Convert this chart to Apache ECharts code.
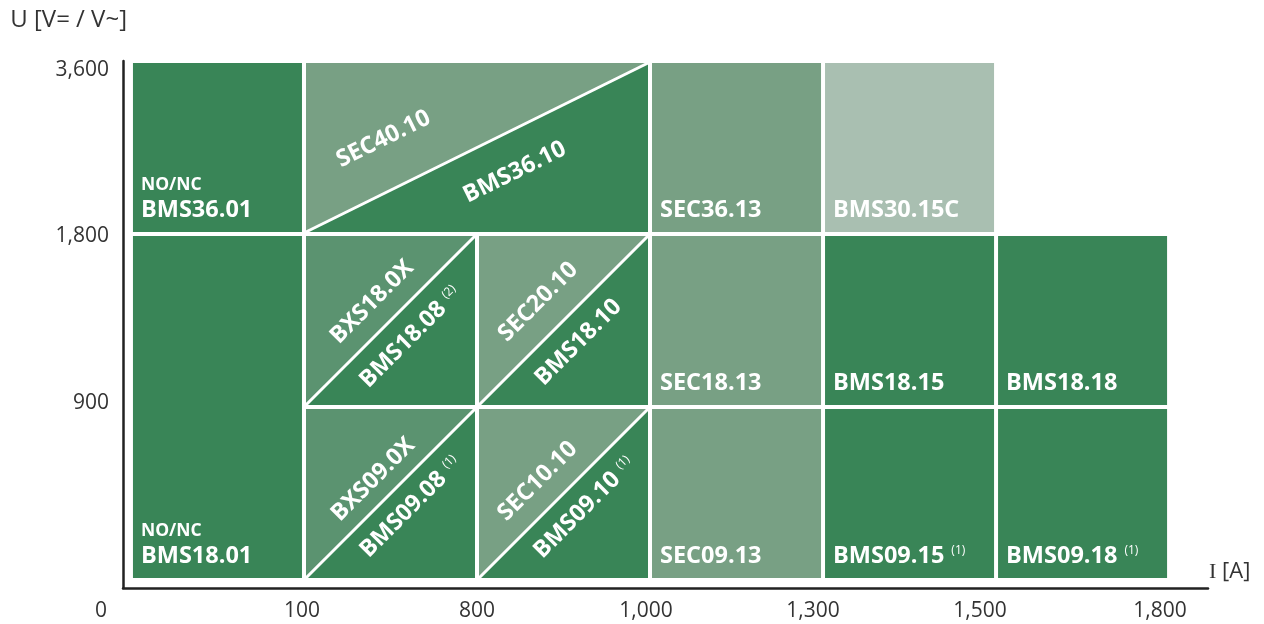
<!DOCTYPE html>
<html><head><meta charset="utf-8">
<script src="https://cdn.jsdelivr.net/npm/echarts@6/dist/echarts.min.js"></script>
<style>html,body{margin:0;padding:0;background:#fff}#c{width:1264px;height:624px}</style>
</head><body><div id="c"></div>
<script>
// ---------- data ----------
const xTickLabels = ['0', '100', '800', '1,000', '1,300', '1,500', '1,800'];
const yTickLabels = ['0', '900', '1,800', '3,600'];
const xAxisName = 'I [A]';
const yAxisName = 'U [V= / V~]';

// whole cells: [colFrom, colTo, rowFrom, rowTo, name, note, prefix, family]
const fullCells = [
  [0, 1, 0, 2, 'BMS18.01', '', 'NO/NC', 'BMS'],
  [0, 1, 2, 3, 'BMS36.01', '', 'NO/NC', 'BMS'],
  [3, 4, 2, 3, 'SEC36.13', '', '', 'SEC'],
  [3, 4, 1, 2, 'SEC18.13', '', '', 'SEC'],
  [3, 4, 0, 1, 'SEC09.13', '', '', 'SEC'],
  [4, 5, 2, 3, 'BMS30.15C', '', '', 'BMSC'],
  [4, 5, 1, 2, 'BMS18.15', '', '', 'BMS'],
  [4, 5, 0, 1, 'BMS09.15', '(1)', '', 'BMS'],
  [5, 6, 1, 2, 'BMS18.18', '', '', 'BMS'],
  [5, 6, 0, 1, 'BMS09.18', '(1)', '', 'BMS']
];

// diagonally split cells: [colFrom, colTo, rowFrom, rowTo, upperName, upperNote, upperFamily, lowerName, lowerNote, lowerFamily]
const splitCells = [
  [1, 3, 2, 3, 'SEC40.10', '', 'SEC', 'BMS36.10', '', 'BMS'],
  [1, 2, 1, 2, 'BXS18.0X', '', 'BXS', 'BMS18.08', '(2)', 'BMS'],
  [2, 3, 1, 2, 'SEC20.10', '', 'SEC', 'BMS18.10', '', 'BMS'],
  [1, 2, 0, 1, 'BXS09.0X', '', 'BXS', 'BMS09.08', '(1)', 'BMS'],
  [2, 3, 0, 1, 'SEC10.10', '', 'SEC', 'BMS09.10', '(1)', 'BMS']
];

// ---------- styles / layout ----------
const familyColors = { BMS: '#398557', SEC: '#78a084', BXS: '#5b9370', BMSC: '#a9bfb1' };
// label placement along the diagonal: [tUpper, offUpper, tLower, offLower]
const splitLabelLayout = [
  [0.29, 49, 0.56, -39],
  [0.50, 26, 0.51, -26],
  [0.48, 31, 0.48, -26],
  [0.49, 22, 0.52, -24],
  [0.46, 27, 0.52, -25]
];
// horizontal nudge (px) of each x tick label, as in the reference
const xLabelShift = [-30, -2, 0, -4, -10, -16, -9];
const GAP = 2;
const FONT = "'Open Sans', 'Noto Sans', sans-serif";
const TICK_SIZE = 21;
const rich = {
  m: { fontSize: 23.5, fontWeight: 'bold', fontFamily: FONT, fill: '#fff', lineHeight: 28 },
  p: { fontSize: 17.5, fontWeight: 'bold', fontFamily: FONT, fill: '#fff', lineHeight: 22 },
  s: { fontSize: 12, fontFamily: FONT, fill: '#fff', verticalAlign: 'top', lineHeight: 16, padding: [3, 0, 0, 7] }
};

function labelText(name, note) {
  return '{m|' + name + '}' + (note ? '{s|' + note + '}' : '');
}

function cellBox(api) {
  const p0 = api.coord([api.value(0), api.value(3)]);
  const p1 = api.coord([api.value(1), api.value(2)]);
  return { x: p0[0] + GAP, y: p0[1] + GAP, w: p1[0] - p0[0] - 2 * GAP, h: p1[1] - p0[1] - 2 * GAP };
}

function renderFull(params, api) {
  const c = fullCells[params.dataIndex];
  const b = cellBox(api);
  let txt = labelText(c[4], c[5]);
  if (c[6]) txt = '{p|' + c[6] + '}\n' + txt;
  return {
    type: 'group',
    children: [
      { type: 'rect', shape: { x: b.x, y: b.y, width: b.w, height: b.h }, style: { fill: familyColors[c[7]] } },
      { type: 'text', x: b.x + 8, y: b.y + b.h - 8, style: { text: txt, rich: rich, align: 'left', verticalAlign: 'bottom' } }
    ]
  };
}

function renderSplit(params, api) {
  const c = splitCells[params.dataIndex];
  const L = splitLabelLayout[params.dataIndex];
  const b = cellBox(api);
  const TL = [b.x, b.y], TR = [b.x + b.w, b.y], BR = [b.x + b.w, b.y + b.h], BL = [b.x, b.y + b.h];
  const len = Math.sqrt(b.w * b.w + b.h * b.h);
  const ux = b.w / len, uy = -b.h / len;
  const nx = -b.h / len, ny = -b.w / len;
  const ang = Math.atan2(b.h, b.w);
  function pos(t, d) { return [BL[0] + ux * t * len + nx * d, BL[1] + uy * t * len + ny * d]; }
  const pu = pos(L[0], L[1]);
  const pl = pos(L[2], L[3]);
  return {
    type: 'group',
    children: [
      { type: 'polygon', shape: { points: [TL, TR, BL] }, style: { fill: familyColors[c[6]] } },
      { type: 'polygon', shape: { points: [TR, BR, BL] }, style: { fill: familyColors[c[9]] } },
      { type: 'line', shape: { x1: BL[0], y1: BL[1], x2: TR[0], y2: TR[1] }, style: { stroke: '#fff', lineWidth: 3 } },
      { type: 'text', x: pu[0], y: pu[1], rotation: ang, style: { text: labelText(c[4], c[5]), rich: rich, align: 'center', verticalAlign: 'middle' } },
      { type: 'text', x: pl[0], y: pl[1], rotation: ang, style: { text: labelText(c[7], c[8]), rich: rich, align: 'center', verticalAlign: 'middle' } }
    ]
  };
}

const xLabelRich = {};
xLabelShift.forEach(function (d, i) {
  xLabelRich['l' + i] = {
    fontSize: TICK_SIZE, color: '#333', fontFamily: FONT,
    padding: d < 0 ? [0, -2 * d, 0, 0] : [0, 0, 0, 2 * d]
  };
});

const chart = echarts.init(document.getElementById('c'), null, { renderer: 'canvas' });
chart.setOption({
  animation: false,
  backgroundColor: '#fff',
  grid: { left: 123, right: 56, top: 61, bottom: 36, containLabel: false },
  xAxis: {
    type: 'value', min: -0.046, max: 6.225,
    name: '{i|I}{n| [A]}', nameLocation: 'end', nameGap: 1,
    nameTextStyle: {
      verticalAlign: 'bottom', padding: [0, 0, 5, 0],
      rich: {
        i: { fontSize: 22, color: '#333', fontFamily: "'Liberation Serif', serif" },
        n: { fontSize: 22, color: '#333', fontFamily: FONT }
      }
    },
    axisLine: { show: true, onZero: false, lineStyle: { color: '#222', width: 2.5 } },
    axisTick: { show: false },
    splitLine: { show: false },
    axisLabel: {
      customValues: [0, 1, 2, 3, 4, 5, 6],
      margin: 13, fontSize: TICK_SIZE, color: '#333', fontFamily: FONT,
      formatter: function (v) {
        const i = Math.round(v);
        return '{l' + i + '|' + xTickLabels[i] + '}';
      },
      rich: xLabelRich
    }
  },
  yAxis: {
    type: 'value', min: -0.046, max: 3,
    name: yAxisName, nameLocation: 'end', nameGap: 29,
    nameTextStyle: { align: 'right', fontSize: 24, color: '#333', fontFamily: FONT, padding: [0, -4, 0, 0] },
    axisLine: { show: true, onZero: false, lineStyle: { color: '#222', width: 2.5 } },
    axisTick: { show: false },
    splitLine: { show: false },
    axisLabel: {
      customValues: [1, 2, 3],
      margin: 14, fontSize: TICK_SIZE, color: '#333', fontFamily: FONT,
      formatter: function (v) {
        const i = Math.round(v);
        const s = yTickLabels[i];
        if (i === 3) return '{t|' + s + '}';
        if (i === 1) return '{b|' + s + '}';
        return '{c|' + s + '}';
      },
      rich: {
        t: { fontSize: TICK_SIZE, color: '#333', fontFamily: FONT, padding: [18, 0, 0, 0] },
        b: { fontSize: TICK_SIZE, color: '#333', fontFamily: FONT, padding: [0, 0, 8, 0] },
        c: { fontSize: TICK_SIZE, color: '#333', fontFamily: FONT, padding: [5, 0, 0, 0] }
      }
    }
  },
  series: [
    {
      type: 'custom', coordinateSystem: 'cartesian2d',
      encode: { x: [0, 1], y: [2, 3] },
      data: fullCells.map(c => [c[0], c[1], c[2], c[3]]),
      renderItem: renderFull, silent: true
    },
    {
      type: 'custom', coordinateSystem: 'cartesian2d',
      encode: { x: [0, 1], y: [2, 3] },
      data: splitCells.map(c => [c[0], c[1], c[2], c[3]]),
      renderItem: renderSplit, silent: true
    }
  ]
});
</script>
</body></html>
